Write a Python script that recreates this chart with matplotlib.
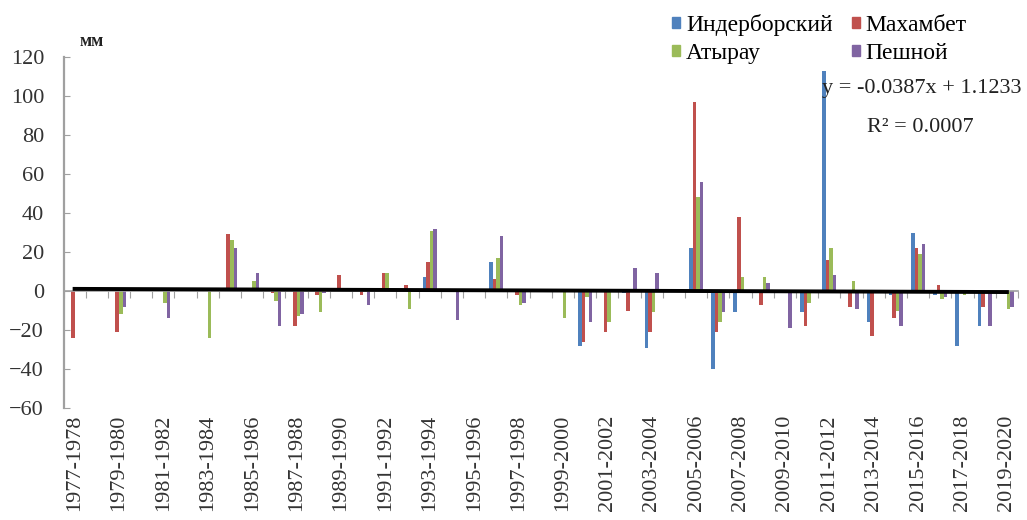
import numpy as np
import matplotlib
matplotlib.use('Agg')
import matplotlib.pyplot as plt
from matplotlib.patches import Patch

plt.rcParams['font.family'] = ['Liberation Serif', 'DejaVu Serif']

# seasons 1977-1978 ... 2019-2020
seasons = [f'{y}-{y + 1}' for y in range(1977, 2020)]

# precipitation anomaly, mm
inderbor = [0, 0, 0, 0, 0, 0, 0, 0, 0, 0, 0, 0, 0, 0, 0, 0, 7, 0, 0, 15, 0, 0,
            0, -28, 0, -1, -29, 0, 22, -40, -11, 0, 0, -11, 113, 0, -16, -2, 30, -2, -28, -18, 0]
makhambet = [-24, 0, -21, 0, 0, 0, 0, 29, 0, -1, -18, -2, 8, -2, 9, 3, 15, 0, 0, 6, -2, 0,
             0, -26, -21, -10, -21, 0, 97, -21, 38, -7, 0, -18, 16, -8, -23, -14, 22, 3, 0, -8, 0]
atyrau = [0, 0, -12, 0, -6, 0, -24, 26, 5, -5, -13, -11, 0, 0, 9, -9, 31, 0, 0, 17, -7, 0,
          -14, -3, -16, 0, -11, 0, 48, -16, 7, 7, 0, -6, 22, 5, 0, -10, 19, -4, -2, 0, -9]
peshnoy = [0, 0, -8, 0, -14, 0, 0, 22, 9, -18, -12, -1, 0, -7, 0, 1, 32, -15, 0, 28, -6, 0,
           0, -16, 0, 12, 9, 0, 56, -11, 0, 4, -19, 0, 8, -9, 0, -18, 24, -3, 0, -18, -8]

series_names = ['Индерборский', 'Махамбет', 'Атырау', 'Пешной']
series_colors = ['#4F81BD', '#C0504D', '#9BBB59', '#8064A2']

# linear trend shown on the chart
trend_slope = -0.0387
trend_intercept = 1.1233

fig = plt.figure(figsize=(10.27, 5.2), dpi=100)
ax = fig.add_axes([63.5 / 1027, 1 - 408 / 520, (1018 - 63.5) / 1027, (408 - 57) / 520])

x = np.arange(len(seasons))
bw = 0.16
offsets = [-1.5 * bw, -0.5 * bw, 0.5 * bw, 1.5 * bw]
for vals, off, col in zip([inderbor, makhambet, atyrau, peshnoy], offsets, series_colors):
    ax.bar(x + off, vals, width=bw, color=col, linewidth=0, zorder=2)

# trend line over the category range
tx = np.array([x[0], x[-1]])
ax.plot(tx, trend_slope * (tx + 1) + trend_intercept, color='black', lw=2.8, zorder=3)

ax.set_xlim(-0.5, len(seasons) - 0.5)
ax.set_ylim(-60, 120)
ax.set_yticks(range(-60, 121, 20))
ax.tick_params(axis='y', direction='in', length=4, color='#A0A0A0', pad=14,
               labelsize=16, labelcolor='#333333')

for s in ['top', 'right']:
    ax.spines[s].set_visible(False)
ax.spines['left'].set_color('#A0A0A0')
ax.spines['left'].set_linewidth(1.6)
ax.spines['bottom'].set_position(('data', 0))
ax.spines['bottom'].set_color('#A0A0A0')
ax.spines['bottom'].set_linewidth(1.2)
ax.set_xticks(np.arange(-0.5, len(seasons), 1))
ax.set_xticklabels([])
ax.tick_params(axis='x', direction='out', length=5, color='#A0A0A0')

for i in range(0, len(seasons), 2):
    ax.text(x[i], -0.02, seasons[i], transform=ax.get_xaxis_transform(), rotation=90,
            ha='center', va='top', fontsize=16, color='#333333')

fig.text(80 / 1027, 1 - 42 / 520, 'мм', fontsize=13, fontweight='bold', va='center', color='#222222')

handles = [Patch(color=c, label=n) for c, n in zip(series_colors, series_names)]
order = [0, 2, 1, 3]
fig.legend([handles[k] for k in order], [series_names[k] for k in order], ncol=2,
           loc='upper left', bbox_to_anchor=(672 / 1027, 1 - 14 / 520), frameon=False,
           fontsize=17, handlelength=0.35, handleheight=0.35, handletextpad=0.25,
           columnspacing=0.8, labelspacing=0.3, borderaxespad=0, borderpad=0)

fig.text(822 / 1027, 1 - 88 / 520, 'y = -0.0387x + 1.1233', fontsize=16, va='center', color='#222222')
fig.text(920 / 1027, 1 - 128 / 520, 'R² = 0.0007', fontsize=16, va='center', ha='center', color='#222222')

fig.savefig('out.png', dpi=100)
